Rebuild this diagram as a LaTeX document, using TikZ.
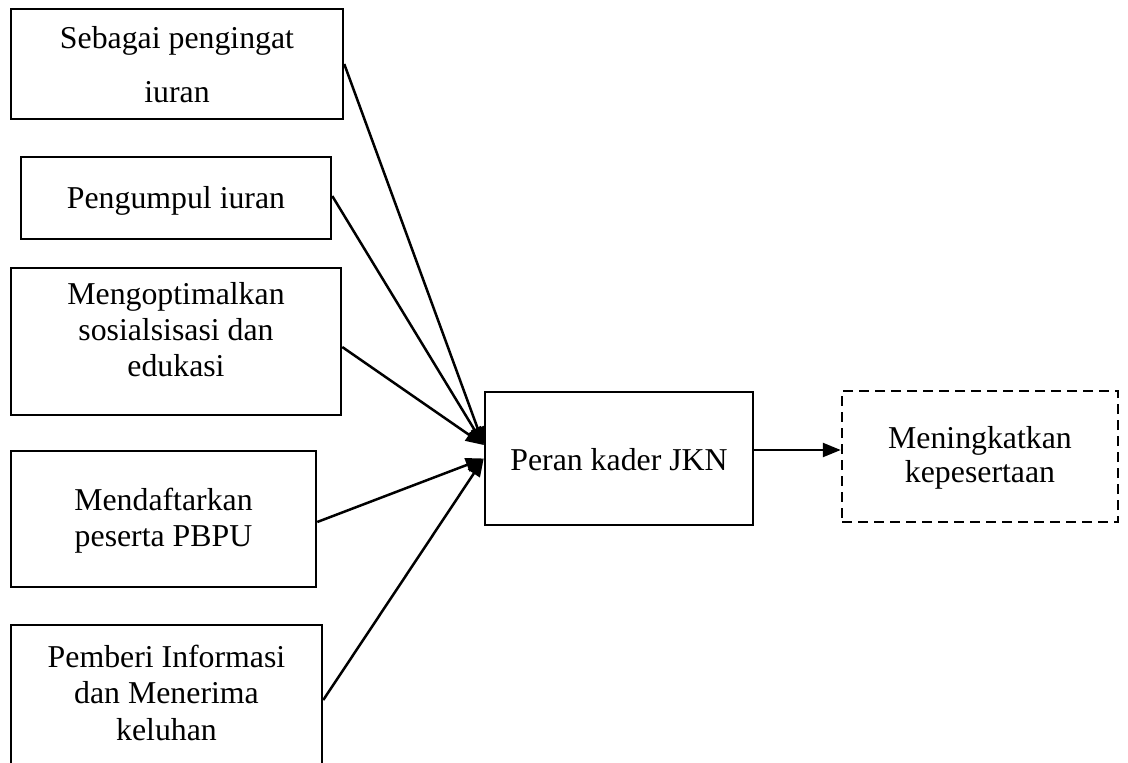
\documentclass[tikz,border=0pt]{standalone}
\usepackage{fontspec}
\setmainfont{Liberation Serif}
\usetikzlibrary{arrows.meta,calc}
\begin{document}
\begin{tikzpicture}[x=1pt,y=-1pt,
  box/.style={draw, line width=2.5pt, inner sep=0pt},
  dbox/.style={box, dash pattern=on 10pt off 6pt},
  lbl/.style={anchor=base, inner sep=0pt, font=\fontsize{31.8}{36}\selectfont},
  arr/.style={line width=2.5pt, -{Triangle[length=18pt,width=14pt]}}]
\useasboundingbox (0,0) rectangle (1128,763);
\clip (0,0) rectangle (1128,763);
% boxes
\node[box, minimum width=332pt, minimum height=110pt] (b1) at (177,64) {};
\node[box, minimum width=310pt, minimum height=82pt] (b2) at (176,198) {};
\node[box, minimum width=330pt, minimum height=147pt] (b3) at (176,341.5) {};
\node[box, minimum width=305pt, minimum height=136pt] (b4) at (163.5,519) {};
\node[box, minimum width=311pt, minimum height=150pt] (b5) at (166.5,700) {};
\node[box, minimum width=268pt, minimum height=133pt] (c) at (619,458.5) {};
\node[dbox, minimum width=276pt, minimum height=131pt] (d) at (980,456.5) {};
% texts
\node[lbl] (t1a) at (177,48) {Sebagai pengingat};
\node[lbl] (t1b) at (177,102) {iuran};
\node[lbl] (t2) at (176,208) {Pengumpul iuran};
\node[lbl] (t3a) at (176,304) {Mengoptimalkan};
\node[lbl] (t3b) at (176,340) {sosialsisasi dan};
\node[lbl] (t3c) at (176,376) {edukasi};
\node[lbl] (t4a) at (163.5,510) {Mendaftarkan};
\node[lbl] (t4b) at (163.5,546) {peserta PBPU};
\node[lbl] (t5a) at (166.5,667) {Pemberi Informasi};
\node[lbl] (t5b) at (166.5,703) {dan Menerima};
\node[lbl] (t5c) at (166.5,740) {keluhan};
\node[lbl] (tc) at (619,470) {Peran kader JKN};
\node[lbl] (tda) at (980,448) {Meningkatkan};
\node[lbl] (tdb) at (980,482) {kepesertaan};
% connector points
\coordinate (cu) at ($(c.west)+(0,-13.5)$);
\coordinate (co) at ($(c.east)+(0,-8.5)$);
\draw[arr] (b1.east) -- (cu);
\draw[arr] ($(b2.east)+(0,-2)$) -- (cu);
\draw[arr] ($(b3.east)+(0,5.5)$) -- (cu);
\draw[arr] ($(b4.east)+(0,3)$) -- (c.west);
\draw[arr] (b5.east) -- (c.west);
\draw[arr] (co) -- (co -| d.west);
\end{tikzpicture}
\end{document}
